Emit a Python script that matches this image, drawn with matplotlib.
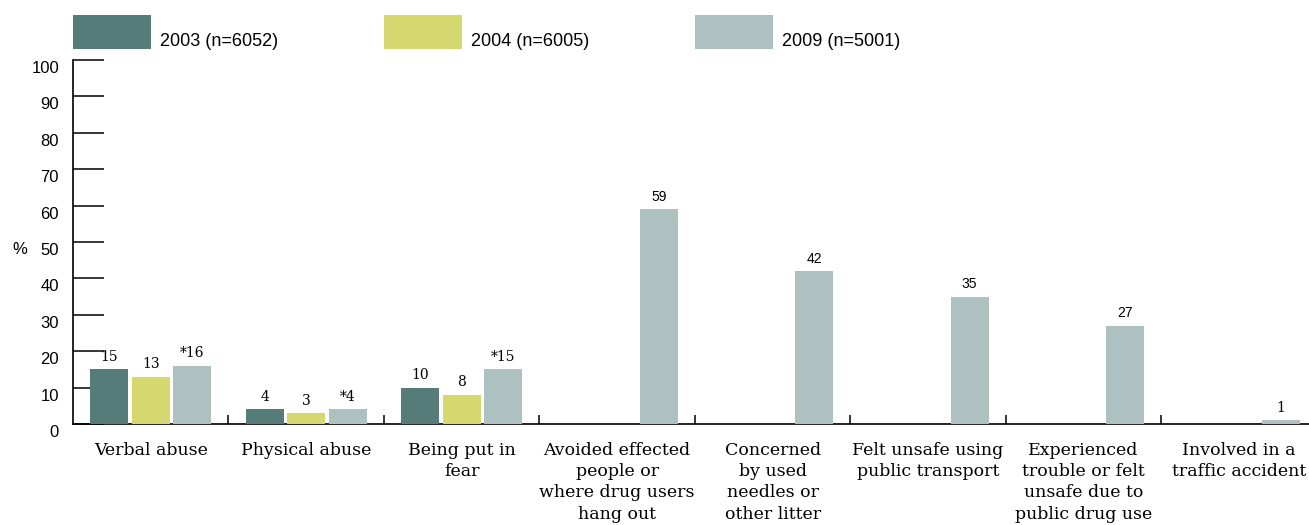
import numpy as np
import matplotlib
matplotlib.use("Agg")
import matplotlib.pyplot as plt
from matplotlib.patches import Rectangle
from matplotlib.transforms import ScaledTranslation, blended_transform_factory

# data
categories = ["Verbal abuse", "Physical abuse", "Being put in\nfear",
              "Avoided effected\npeople or\nwhere drug users\nhang out",
              "Concerned\nby used\nneedles or\nother litter",
              "Felt unsafe using\npublic transport",
              "Experienced\ntrouble or felt\nunsafe due to\npublic drug use",
              "Involved in a\ntraffic accident"]
series_names = ["2003 (n=6052)", "2004 (n=6005)", "2009 (n=5001)"]
vals_2003 = [15, 4, 10, np.nan, np.nan, np.nan, np.nan, np.nan]
vals_2004 = [13, 3, 8, np.nan, np.nan, np.nan, np.nan, np.nan]
vals_2009 = [16, 4, 15, 59, 42, 35, 27, 1]
labels_2009 = ["*16", "*4", "*15", "59", "42", "35", "27", "1"]
yticks = [0, 10, 20, 30, 40, 50, 60, 70, 80, 90, 100]

colors = ["#567c7a", "#d4d86e", "#adc1c0"]
SERIF = ["DejaVu Serif"]
SANS = ["Liberation Sans", "DejaVu Sans"]

fig = plt.figure(figsize=(13.09, 5.25), dpi=100)
ax = fig.add_axes([73 / 1309, 101 / 525, 1236 / 1309, 364 / 525])
ax.set_axisbelow(True)

x = np.arange(len(categories))
w = 0.245
off = 0.267
all_vals = [vals_2003, vals_2004, vals_2009]
for i, (vals, c) in enumerate(zip(all_vals, colors)):
    ax.bar(x + (i - 1) * off, vals, width=w, color=c, zorder=2)

# value labels
for i, vals in enumerate(all_vals):
    for j, v in enumerate(vals):
        if np.isnan(v):
            continue
        txt = labels_2009[j] if i == 2 else str(v)
        fam = SANS if (i == 2 and 3 <= j <= 6) else SERIF
        ax.annotate(txt, (x[j] + (i - 1) * off, v), xytext=(0, 4),
                    textcoords="offset points", ha="center", va="bottom",
                    fontsize=10, family=fam)

ax.set_xlim(-0.5, 7.45)
ax.set_ylim(0, 100)

for s in ["top", "right"]:
    ax.spines[s].set_visible(False)
for s in ["left", "bottom"]:
    ax.spines[s].set_linewidth(1.2)
    ax.spines[s].set_zorder(1)

ax.set_yticks(yticks)
ax.tick_params(axis="y", direction="in", length=22.5, width=1.1, pad=10,
               labelsize=12)
for lab in ax.get_yticklabels():
    lab.set_family(SANS)
    lab.set_transform(lab.get_transform() + ScaledTranslation(0, -7 / 100, fig.dpi_scale_trans))

ax.set_xticks(x)
ax.set_xticklabels(categories, family=SERIF, fontsize=12.5, linespacing=1.32)
ax.set_xticks(np.arange(0.5, 7, 1), minor=True)
ax.tick_params(axis="x", which="major", length=0, pad=13)
ax.tick_params(axis="x", which="minor", direction="in", length=6.5, width=1.1)

trans_pct = blended_transform_factory(ax.transAxes, ax.transData)
ax.text(-0.043, 50, "%", transform=trans_pct + ScaledTranslation(0, -7 / 100, fig.dpi_scale_trans),
        ha="center", va="center", fontsize=12, family=SANS)

# legend drawn as patches above the plot
leg_tr = blended_transform_factory(ax.transData, fig.transFigure)
for k, (name, c) in enumerate(zip(series_names, colors)):
    x0 = -0.5 + 2 * k
    fig.add_artist(Rectangle((x0, 1 - 49 / 525), 0.5, 34 / 525, transform=leg_tr,
                             facecolor=c, edgecolor="none"))
    fig.text(x0 + 0.56, 1 - 42 / 525, name, transform=leg_tr, ha="left", va="center",
             fontsize=13, family=SANS)

fig.savefig("out.png", dpi=100)
